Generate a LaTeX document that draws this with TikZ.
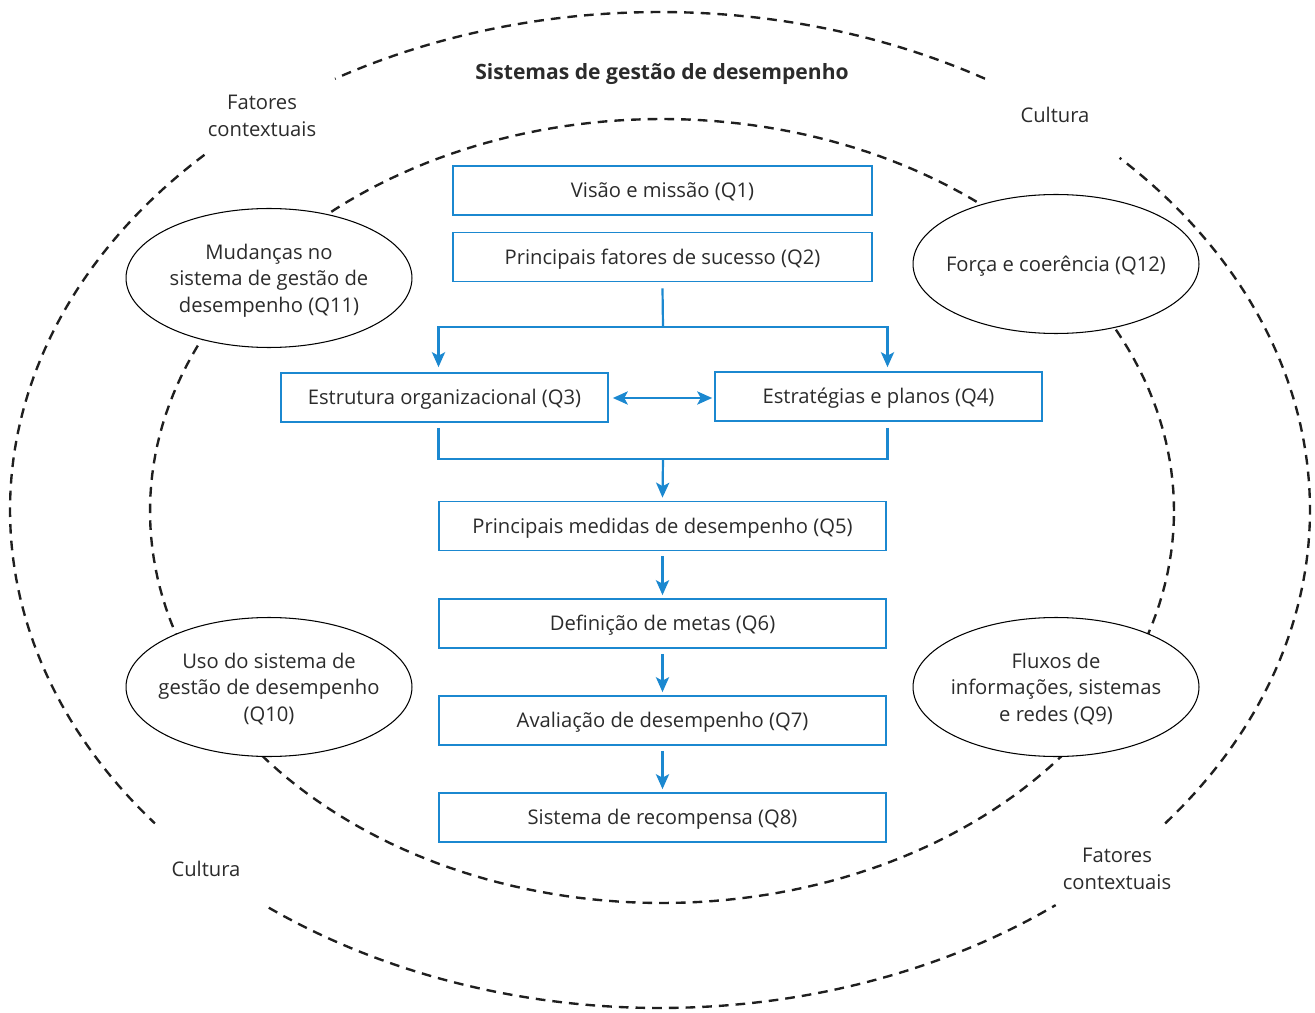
\documentclass[tikz,border=0pt]{standalone}
\usepackage{fontspec}
\setmainfont{Open Sans}
\usetikzlibrary{shapes.geometric,arrows.meta,calc}
\definecolor{qblue}{HTML}{1B88D0}
\definecolor{txt}{HTML}{2B2B2B}
\begin{document}
\begin{tikzpicture}[x=0.02cm,y=-0.02cm,
  font=\fontsize{11.5}{15}\selectfont, text=txt,
  box/.style={draw=qblue,line width=1pt,minimum height=0.98cm,inner sep=0pt,text height=1.08em,text depth=0.25em},
  oval/.style={draw=black,line width=0.6pt,ellipse,fill=white,minimum width=5.72cm,minimum height=2.78cm,inner xsep=-6pt,inner ysep=0pt,text depth=0pt,align=center},
  dashline/.style={line width=1.35pt,dash pattern=on 5.5pt off 4pt,color=black!88},
  link/.style={draw=qblue,line width=1.25pt},
  tip/.tip={Stealth[length=8.5pt,width=7.5pt,inset=2pt]},
  arr/.style={link,-tip},
  darr/.style={link,tip-tip},
  lbl/.style={align=center}
]
\useasboundingbox (0,0) rectangle (1315,1013);

% outer dashed ellipse (broken where labels sit)
\draw[dashline] plot[domain=60:120,samples=60] ({660+650*cos(\x)},{510-498*sin(\x)});
\draw[dashline] plot[domain=134.5:219,samples=80] ({660+650*cos(\x)},{510-498*sin(\x)});
\draw[dashline] plot[domain=233:307.5,samples=80] ({660+650*cos(\x)},{510-498*sin(\x)});
\draw[dashline] plot[domain=-39:45,samples=80] ({660+650*cos(\x)},{510-498*sin(\x)});

% inner dashed ellipse
\draw[dashline] plot[domain=0:360,samples=240] ({662+512*cos(\x)},{511-392*sin(\x)});

% labels
\node[font=\fontsize{12}{15}\selectfont\bfseries] (title) at (662,74) {Sistemas de gestão de desempenho};
\node[lbl] (fc1) at (262,116) {Fatores\\contextuais};
\node[lbl] (c1) at (1055,115) {Cultura};
\node[lbl] (c2) at (206,869) {Cultura};
\node[lbl] (fc2) at (1117,869) {Fatores\\contextuais};

% ovals
\node[oval] (q11) at (269,278) {Mudanças no\\sistema de gestão de\\desempenho (Q11)};
\node[oval] (q12) at (1056,264) {Força e coerência (Q12)};
\node[oval] (q10) at (269,687) {Uso do sistema de\\gestão de desempenho\\(Q10)};
\node[oval] (q9) at (1056,687) {Fluxos de\\informações, sistemas\\e redes (Q9)};

% boxes
\node[box,minimum width=8.38cm] (q1) at (662.5,190.5) {Visão e missão (Q1)};
\node[box,minimum width=8.38cm] (q2) at (662.5,257) {Principais fatores de sucesso (Q2)};
\node[box,minimum width=6.54cm] (q3) at (444.5,397.5) {Estrutura organizacional (Q3)};
\node[box,minimum width=6.54cm] (q4) at (878.5,396.5) {Estratégias e planos (Q4)};
\node[box,minimum width=8.94cm] (q5) at (662.5,526) {Principais medidas de desempenho (Q5)};
\node[box,minimum width=8.94cm] (q6) at (662.5,623.5) {Definição de metas (Q6)};
\node[box,minimum width=8.94cm] (q7) at (662.5,720.5) {Avaliação de desempenho (Q7)};
\node[box,minimum width=8.94cm] (q8) at (662.5,817.5) {Sistema de recompensa (Q8)};

% connectors
\coordinate (j1) at (663,327);
\draw[link] ($(q2.south)+(0,6)$) -- (j1);
\draw[arr] (j1) -| ($(q3.north)+(-6,-5)$);
\draw[arr] (j1) -| ($(q4.north)+(9,-4)$);
\draw[darr] ($(q3.east)+(4,0.5)$) -- ($(q4.west)+(-2,1.5)$);
\coordinate (j2) at (663,459);
\draw[link] ($(q3.south)+(-6,5)$) |- (j2);
\draw[link] ($(q4.south)+(9,6)$) |- (j2);
\draw[arr] (j2) -- ($(q5.north)+(0,-3)$);
\draw[arr] ($(q5.south)+(0,5)$) -- ($(q6.north)+(0,-3)$);
\draw[arr] ($(q6.south)+(0,5)$) -- ($(q7.north)+(0,-3)$);
\draw[arr] ($(q7.south)+(0,5)$) -- ($(q8.north)+(0,-3)$);
\end{tikzpicture}
\end{document}
